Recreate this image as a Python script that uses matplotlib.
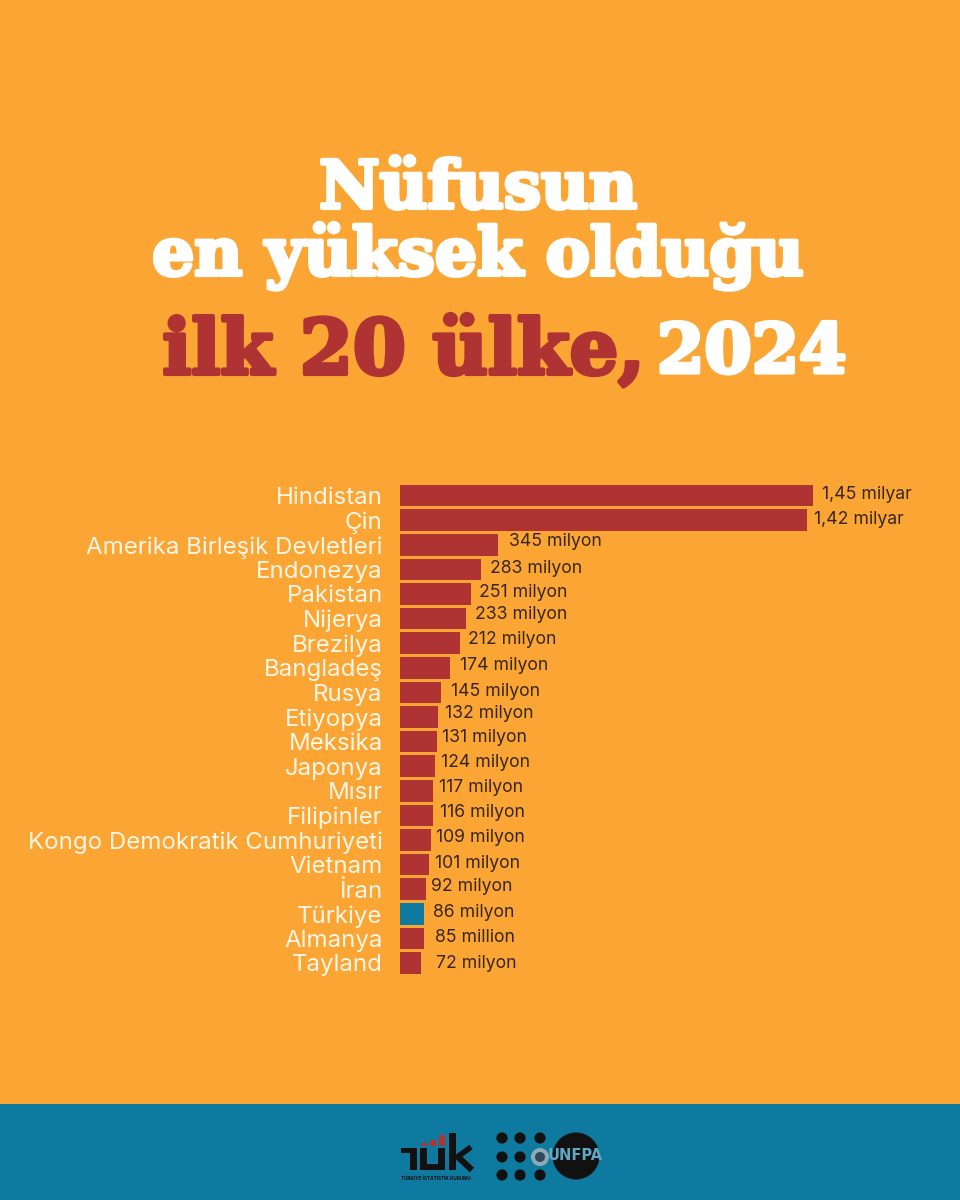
import matplotlib.patheffects as pe
from matplotlib import pyplot as plt
from matplotlib.patches import Circle, Rectangle

countries = ['Hindistan', 'Çin', 'Amerika Birleşik Devletleri', 'Endonezya', 'Pakistan',
             'Nijerya', 'Brezilya', 'Bangladeş', 'Rusya', 'Etiyopya', 'Meksika', 'Japonya',
             'Mısır', 'Filipinler', 'Kongo Demokratik Cumhuriyeti', 'Vietnam', 'İran',
             'Türkiye', 'Almanya', 'Tayland']
population = [1450, 1430, 345, 283, 251, 233, 212, 174, 145, 132, 131, 124, 117, 116, 109,
              101, 92, 86, 85, 72]
value_labels = ['1,45 milyar', '1,42 milyar', '345 milyon', '283 milyon', '251 milyon',
                '233 milyon', '212 milyon', '174 milyon', '145 milyon', '132 milyon',
                '131 milyon', '124 milyon', '117 milyon', '116 milyon', '109 milyon',
                '101 milyon', '92 milyon', '86 milyon', '85 million', '72 milyon']

ORANGE = '#FBA534'
RED = '#B03333'
BLUE = '#0E7A9F'
DARK = '#38261C'
BLACK = '#111111'
BODY_FONT = ['Inter', 'DejaVu Sans']
TITLE_FONT = 'DejaVu Serif'

# the labels were placed by hand in the original, so gaps and nudges differ per bar
label_gaps = [9, 7, 11, 9, 8, 9, 8, 10, 10, 7, 5, 6, 6, 7, 5, 6, 5, 9, 11, 15]
label_nudges = [1, 1, 3, 1, 1, 4, 4, 2, 1, 3, 4, 4, 3, 3, 2, 1, 3, 1, 1, 0]

fig = plt.figure(figsize=(9.6, 12), dpi=100, facecolor=ORANGE)

# chart
ax = fig.add_axes([400 / 960, 1 - 975.3 / 1200, 560 / 960, 492 / 1200])
ax.set_facecolor('none')
positions = list(range(len(countries)))
colors = [BLUE if c == 'Türkiye' else RED for c in countries]
ax.barh(positions, population, height=0.88, color=colors)
ax.set_xlim(0, 560 / 0.2848)
ax.set_ylim(len(countries) - 0.5, -0.5)
ax.set_yticks(positions, countries)
ax.tick_params(axis='y', length=0, pad=12.5, labelsize=17.3, labelcolor='#FFF6E6')
for tick in ax.get_yticklabels():
    tick.set_family(BODY_FONT)
ax.xaxis.set_visible(False)
for spine in ax.spines.values():
    spine.set_visible(False)

for i, (value, label) in enumerate(zip(population, value_labels)):
    ax.annotate(label, (value, i), xytext=(label_gaps[i] * 0.72, label_nudges[i] * 0.72),
                textcoords='offset points', va='center', ha='left',
                fontsize=12.7, color=DARK, family=BODY_FONT)

# title and footer, drawn in image pixels
over = fig.add_axes([0, 0, 1, 1])
over.set_xlim(0, 960)
over.set_ylim(1200, 0)
over.axis('off')
over.patch.set_alpha(0)

bold = [pe.withStroke(linewidth=3, foreground='white')]
bold_red = [pe.withStroke(linewidth=3, foreground=RED)]
over.text(478, 190, 'Nüfusun', ha='center', va='center', fontsize=47.5, color='white',
          family=TITLE_FONT, weight='bold', path_effects=bold)
over.text(478, 257, 'en yüksek olduğu', ha='center', va='center', fontsize=47.6, color='white',
          family=TITLE_FONT, weight='bold', path_effects=bold)
over.text(645, 353, 'ilk 20 ülke,', ha='right', va='center', fontsize=54.9, color=RED,
          family=TITLE_FONT, weight='bold', path_effects=bold_red)
over.text(657, 354, '2024', ha='left', va='center', fontsize=49, color='white',
          family=TITLE_FONT, weight='bold', path_effects=bold)

over.add_patch(Rectangle((0, 1104), 960, 96, color=BLUE, lw=0))

# TÜİK logo
over.add_patch(Rectangle((401, 1148), 16, 5, color=BLACK, lw=0))
over.add_patch(Rectangle((410, 1148), 7, 22, color=BLACK, lw=0))
over.add_patch(Rectangle((420, 1148), 7, 22, color=BLACK, lw=0))
over.add_patch(Rectangle((420, 1164), 25, 6, color=BLACK, lw=0))
over.add_patch(Rectangle((438, 1148), 7, 22, color=BLACK, lw=0))
for x, top in zip([421, 430, 439], [1143, 1140, 1135]):
    over.add_patch(Rectangle((x, top), 6, 1146 - top, color=RED, lw=0))
over.add_patch(Rectangle((449, 1133), 7, 37, color=BLACK, lw=0))
over.plot([456, 471], [1158, 1147], color=BLACK, lw=4, solid_capstyle='butt')
over.plot([457, 472], [1156, 1170], color=BLACK, lw=4.5, solid_capstyle='butt')
over.text(436, 1178, 'TÜRKİYE İSTATİSTİK KURUMU', ha='center', va='center', fontsize=3.4,
          color=BLACK, weight='bold', family=BODY_FONT)

# UNFPA logo
for x in [502, 520, 540]:
    for y in [1138, 1157, 1175]:
        if (x, y) != (540, 1157):
            over.add_patch(Circle((x, y), 5.6, color=BLACK, lw=0))
over.add_patch(Circle((576, 1156), 23.5, color=BLACK, lw=0))
over.add_patch(Circle((540, 1157), 9, color='#8FA9B5', lw=0))
over.add_patch(Circle((540, 1157), 5, color='#2C4A58', lw=0))
over.text(575.5, 1156, 'UNFPA', ha='center', va='center', fontsize=10.5, color='#5FA9C4',
          family='Liberation Sans Narrow', weight='bold')

fig.savefig('out.png', dpi=100, facecolor=ORANGE)
